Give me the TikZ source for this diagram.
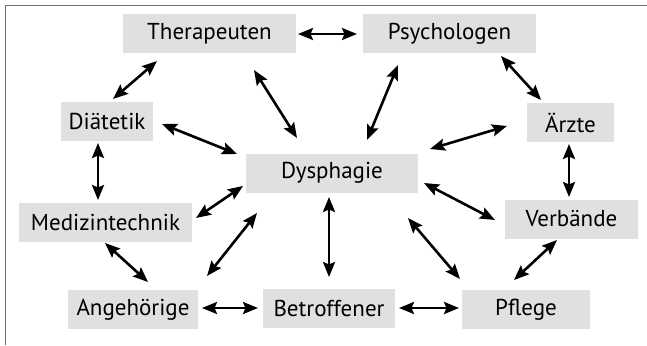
\documentclass[tikz,border=0pt]{standalone}
\usepackage{fontspec}
\setmainfont{PT Sans}
\usetikzlibrary{arrows.meta}
\definecolor{boxgray}{HTML}{E0E0E0}
\definecolor{framegray}{HTML}{707070}
\begin{document}
\begin{tikzpicture}[x=1pt,y=-1pt,
  box/.style={fill=boxgray,draw=none,inner sep=0pt,minimum height=39pt,
    font=\fontsize{23}{27}\selectfont},
  arr/.style={line width=2.6pt,{Stealth[length=15pt,width=12pt,inset=2.5pt]}-{Stealth[length=15pt,width=12pt,inset=2.5pt]}}]
\useasboundingbox (0,0) rectangle (647,345);
\draw[framegray,line width=1.4pt] (5.5,345) -- (5.5,5.5) -- (647,5.5);
\node[box,minimum width=173pt] (ther) at (209.5,33.5) {Therapeuten};
\node[box,minimum width=173pt] (psy) at (449.5,33.5) {Psychologen};
\node[box,minimum width=92pt] (diat) at (107,121) {Diätetik};
\node[box,minimum width=172pt] (dys) at (332,173) {Dysphagie};
\node[box,minimum width=87pt] (arz) at (570.5,122.5) {Ärzte};
\node[box,minimum width=173pt] (med) at (105.5,222.5) {Medizintechnik};
\node[box,minimum width=133pt] (verb) at (571.5,219) {Verbände};
\node[box,minimum width=130pt] (ang) at (133,309.5) {Angehörige};
\node[box,minimum width=132pt] (bet) at (329,308.5) {Betroffener};
\node[box,minimum width=128pt] (pfl) at (526,309.5) {Pflege};
\draw[arr] ([shift={(88.5,0.5)}]ther.center) -- ([shift={(-92.5,0.5)}]psy.center);
\draw[arr] ([shift={(-52.5,27.5)}]ther.center) -- ([shift={(6,-22)}]diat.center);
\draw[arr] ([shift={(44.5,36.5)}]ther.center) -- ([shift={(-35,-35)}]dys.center);
\draw[arr] ([shift={(55,3)}]diat.center) -- ([shift={(-95,-19)}]dys.center);
\draw[arr] ([shift={(-9,22)}]diat.center) -- ([shift={(-7.5,-22.5)}]med.center);
\draw[arr] ([shift={(-51.5,31.5)}]psy.center) -- ([shift={(35,-33)}]dys.center);
\draw[arr] ([shift={(51.5,22.5)}]psy.center) -- ([shift={(-29.5,-22.5)}]arz.center);
\draw[arr] ([shift={(-63.5,3.5)}]arz.center) -- ([shift={(98,-24)}]dys.center);
\draw[arr] ([shift={(-1.5,21.5)}]arz.center) -- ([shift={(-2.5,-22)}]verb.center);
\draw[arr] ([shift={(92,10)}]dys.center) -- ([shift={(-76.5,1)}]verb.center);
\draw[arr] ([shift={(76,45)}]dys.center) -- ([shift={(-66,-30.5)}]pfl.center);
\draw[arr] ([shift={(-3,24)}]dys.center) -- ([shift={(0,-31.5)}]bet.center);
\draw[arr] ([shift={(-14.5,21)}]verb.center) -- ([shift={(-12,-29.5)}]pfl.center);
\draw[arr] ([shift={(70,-0.5)}]bet.center) -- ([shift={(-67,-1.5)}]pfl.center);
\draw[arr] ([shift={(69,-1.5)}]ang.center) -- ([shift={(-71,-0.5)}]bet.center);
\draw[arr] ([shift={(-0.5,20.5)}]med.center) -- ([shift={(15,-27.5)}]ang.center);
\draw[arr] ([shift={(90.5,-4.5)}]med.center) -- ([shift={(-89,13)}]dys.center);
\draw[arr] ([shift={(74,-33.5)}]ang.center) -- ([shift={(-75,40)}]dys.center);
\end{tikzpicture}
\end{document}
